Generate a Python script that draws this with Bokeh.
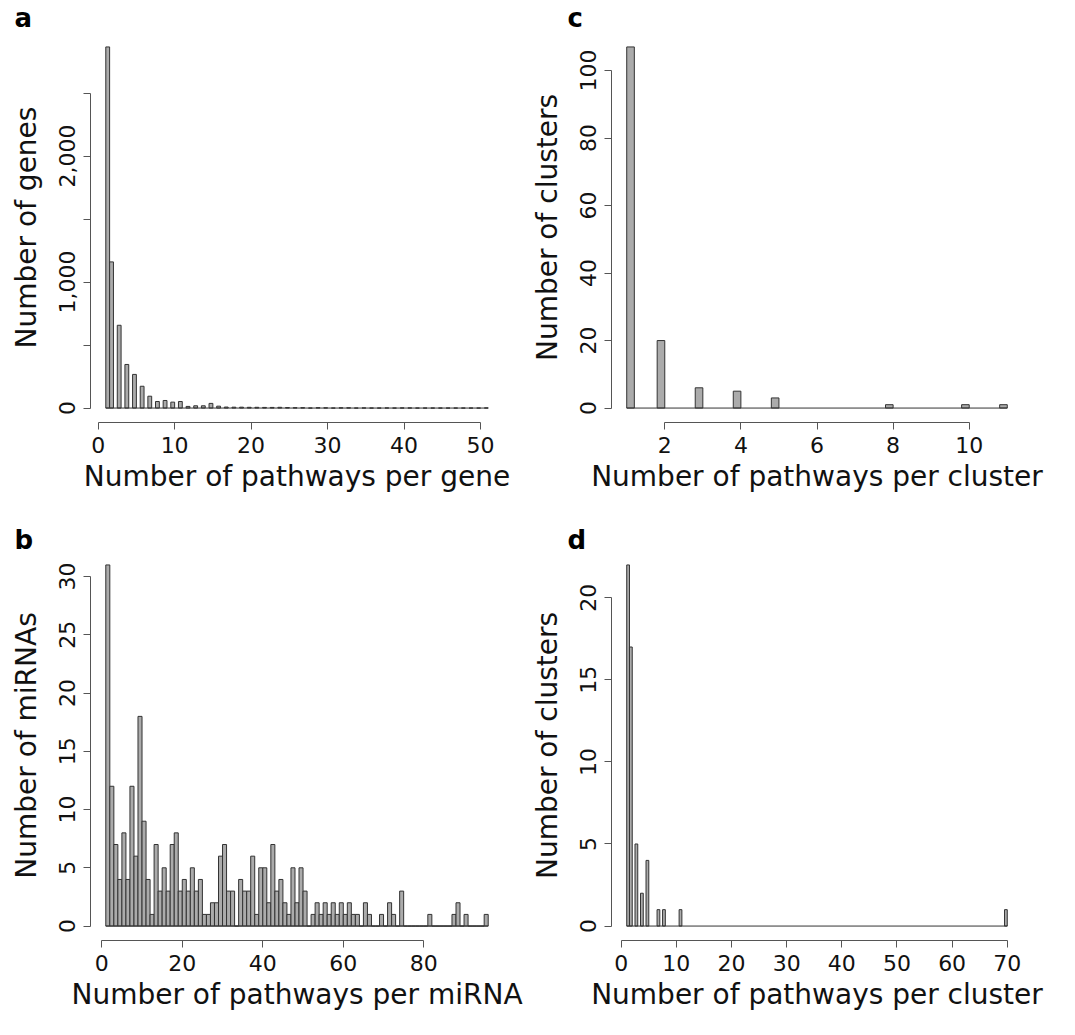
from bokeh.plotting import figure
from bokeh.models import Range1d, FixedTicker, Title
from bokeh.layouts import column, row
from bokeh.embed import file_html
from bokeh.resources import INLINE

FONT = "DejaVu Sans"

# ---------------- data ----------------
# (a) pathways per gene: value k -> number of genes
gene_pathway_values = list(range(1, 52))
gene_counts = [2866, 1160, 657, 346, 267, 173, 94, 52, 60, 47,
               52, 13, 18, 18, 37, 15, 8, 7, 7, 6,
               6, 5, 5, 6, 4, 3, 3, 0, 3, 2,
               0, 2, 2, 0, 1, 0, 0, 1, 0, 1,
               1, 0, 0, 0, 0, 0, 0, 0, 0, 0, 1]

# (b) pathways per miRNA: bins [n, n+1], n = 1..95
mirna_bin_left = list(range(1, 96))
mirna_counts = [31, 12, 7, 4, 8, 4, 12, 6, 18, 9,
                4, 1, 7, 3, 5, 3, 7, 8, 3, 4,
                3, 5, 3, 4, 1, 1, 2, 2, 6, 7,
                3, 3, 0, 4, 3, 3, 6, 1, 5, 5,
                2, 7, 3, 4, 2, 1, 5, 2, 5, 3,
                0, 1, 2, 1, 2, 1, 2, 1, 2, 1,
                2, 1, 1, 0, 2, 1, 0, 0, 1, 0,
                2, 1, 0, 3, 0, 0, 0, 0, 0, 0,
                1, 0, 0, 0, 0, 0, 1, 2, 0, 1,
                0, 0, 0, 0, 1]

# (c) pathways per cluster
c_values = [1, 2, 3, 4, 5, 8, 10, 11]
c_counts = [107, 20, 6, 5, 3, 1, 1, 1]
c_range = [1, 11]

# (d) pathways per cluster
d_values = [1, 2, 3, 4, 5, 7, 8, 11, 70]
d_counts = [22, 17, 5, 2, 4, 1, 1, 1, 1]
d_range = [1, 70]

# ticks
a_xticks = [0, 10, 20, 30, 40, 50]
a_yticks = [0, 500, 1000, 1500, 2000, 2500]
a_ylabels = ["0", "", "1,000", "", "2,000", ""]
b_xticks = [0, 20, 40, 60, 80]
b_yticks = [0, 5, 10, 15, 20, 25, 30]
c_xticks = [2, 4, 6, 8, 10]
c_yticks = [0, 20, 40, 60, 80, 100]
d_xticks = [0, 10, 20, 30, 40, 50, 60, 70]
d_yticks = [0, 5, 10, 15, 20]

FILL = "#ababab"
EDGE = "#333333"
AXIS = "#555555"
FRAME_H = 390


def half_bins(values, width, lo):
    lefts, rights = [], []
    for v in values:
        if v == lo:
            lefts.append(v); rights.append(v + width)
        else:
            lefts.append(v - width); rights.append(v)
    return lefts, rights


def panel(lefts, rights, counts, span, xticks, yticks, ylabels, xtitle, ytitle,
          letter, letter_offset, letter_standoff, fw, bl, br, bt, bb):
    x0, x1 = span
    dx = (x1 - x0) * 0.04
    ymax = max(counts)
    dy = ymax * 0.04
    p = figure(output_backend="svg", toolbar_location=None,
               frame_width=fw, frame_height=FRAME_H,
               min_border_left=bl, min_border_right=br,
               min_border_top=bt, min_border_bottom=bb,
               x_range=Range1d(x0 - dx, x1 + dx),
               y_range=Range1d(-dy, ymax + dy),
               background_fill_color="white", border_fill_color="white")
    p.outline_line_color = None
    p.xgrid.visible = False
    p.ygrid.visible = False
    p.quad(left=lefts, right=rights, bottom=0, top=counts,
           fill_color=FILL, line_color=EDGE, line_width=1)
    p.segment(x0=[x0], y0=[0], x1=[x1], y1=[0], line_color=EDGE, line_width=1)

    for ax, ticks in ((p.xaxis[0], xticks), (p.yaxis[0], yticks)):
        ax.ticker = FixedTicker(ticks=ticks)
        ax.bounds = (ticks[0], ticks[-1])
        ax.axis_line_color = AXIS
        ax.major_tick_line_color = AXIS
        ax.major_tick_out = 7
        ax.major_tick_in = 0
        ax.minor_tick_out = 0
        ax.minor_tick_in = 0
        ax.major_label_text_font = FONT
        ax.major_label_text_font_size = "22px"
        ax.major_label_text_color = "#111111"
        ax.axis_label_text_font = FONT
        ax.axis_label_text_font_size = "28px"
        ax.axis_label_text_font_style = "normal"
        ax.axis_label_text_color = "#111111"
    p.xaxis.axis_label = xtitle
    p.yaxis.axis_label = ytitle
    p.xaxis.major_label_standoff = 7
    p.xaxis.axis_label_standoff = 4
    p.yaxis.major_label_standoff = 8
    p.yaxis.axis_label_standoff = 14
    p.yaxis.major_label_orientation = "vertical"
    if ylabels is not None:
        p.yaxis.major_label_overrides = {t: s for t, s in zip(yticks, ylabels)}
    else:
        p.yaxis.major_label_overrides = {t: str(t) for t in yticks}
    p.xaxis.major_label_overrides = {t: str(t) for t in xticks}

    p.add_layout(Title(text=letter, align="left", offset=letter_offset,
                       text_font=FONT, text_font_size="26px",
                       text_font_style="bold", text_color="black",
                       standoff=letter_standoff), "above")
    return p


a_l, a_r = half_bins(gene_pathway_values, 0.5, 1)
pa = panel(a_l, a_r, gene_counts, [1, 51], a_xticks, a_yticks, a_ylabels,
           "Number of pathways per gene", "Number of genes", "a", -76, 0,
           413, 90, 20, 30, 78)

b_r = [v + 1 for v in mirna_bin_left]
pb = panel(mirna_bin_left, b_r, mirna_counts, [1, 96], b_xticks, b_yticks, None,
           "Number of pathways per miRNA", "Number of miRNAs", "b", -76, -8,
           413, 90, 20, 50, 78)

c_l, c_r = half_bins(c_values, 0.2, 1)
pc = panel(c_l, c_r, c_counts, c_range, c_xticks, c_yticks, None,
           "Number of pathways per cluster", "Number of clusters", "c", -44, 0,
           411, 88, 34, 30, 78)

d_l, d_r = half_bins(d_values, 0.5, 1)
pd = panel(d_l, d_r, d_counts, d_range, d_xticks, d_yticks, None,
           "Number of pathways per cluster", "Number of clusters", "d", -44, -8,
           411, 88, 34, 50, 78)

layout = column(row(pa, pc), row(pb, pd))
open("out.html", "w").write(file_html(layout, INLINE))
